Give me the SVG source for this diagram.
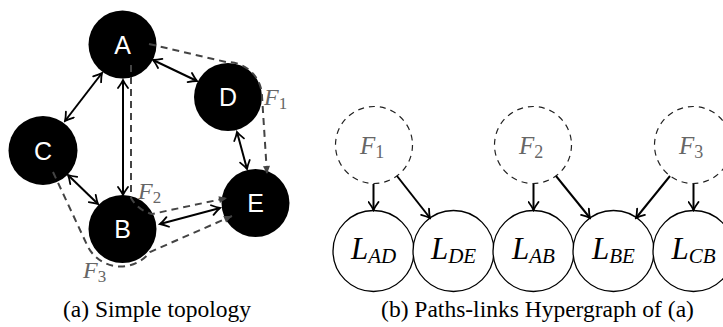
<svg xmlns="http://www.w3.org/2000/svg" width="723" height="327" viewBox="0 0 723 327">
<style>
.blk{fill:#000}
.nl{font-family:"Liberation Sans",Arial,sans-serif;font-size:25px;fill:#fff;text-anchor:middle}
.sol{stroke:#000;stroke-width:2;fill:none}
.dsh{stroke:#444;stroke-width:2;fill:none;stroke-dasharray:7 5}
.fl{font-family:"Liberation Serif","Times New Roman",serif;font-style:italic;fill:#666}
.ll{font-family:"Liberation Serif","Times New Roman",serif;font-style:italic;fill:#000;text-anchor:middle}
.dc{fill:#fff;stroke:#222;stroke-width:1.2;stroke-dasharray:6 5}
.lc{fill:#fff;stroke:#000;stroke-width:1.3}
.cap{font-family:"Liberation Serif","Times New Roman",serif;font-size:23.5px;fill:#000;text-anchor:middle}
</style>
<defs>
<marker id="to" viewBox="-10 -6 12 12" refX="0" refY="0" markerWidth="12" markerHeight="12" markerUnits="userSpaceOnUse" orient="auto-start-reverse">
<path d="M-8,-5 Q-3,-1.3 0,0 Q-3,1.3 -8,5" fill="none" stroke="#000" stroke-width="1.8" stroke-linecap="round"/>
</marker>
<marker id="tri" viewBox="-9 -5 10 10" refX="0" refY="0" markerWidth="10" markerHeight="10" markerUnits="userSpaceOnUse" orient="auto">
<path d="M-8,-3.5 L0,0 L-8,3.5 Z" fill="#444"/>
</marker>
</defs>

<g id="A"><circle class="blk" cx="122.5" cy="44.5" r="34"/><text class="nl" x="122.5" y="53.5">A</text></g>
<g id="B"><circle class="blk" cx="122.5" cy="229" r="34"/><text class="nl" x="122.5" y="238">B</text></g>
<g id="C"><circle class="blk" cx="43" cy="150.5" r="34.5"/><text class="nl" x="43" y="159.5">C</text></g>
<g id="D"><circle class="blk" cx="228" cy="97" r="34"/><text class="nl" x="228" y="106">D</text></g>
<g id="E"><circle class="blk" cx="255.5" cy="203" r="34"/><text class="nl" x="255.5" y="212">E</text></g>

<g id="links">
<line class="sol" x1="153" y1="60" x2="197" y2="81" marker-start="url(#to)" marker-end="url(#to)"/>
<line class="sol" x1="102" y1="73" x2="65" y2="121" marker-start="url(#to)" marker-end="url(#to)"/>
<line class="sol" x1="123" y1="80" x2="123" y2="195" marker-start="url(#to)" marker-end="url(#to)"/>
<line class="sol" x1="68" y1="175" x2="98" y2="204" marker-start="url(#to)" marker-end="url(#to)"/>
<line class="sol" x1="237" y1="132" x2="247" y2="169" marker-start="url(#to)" marker-end="url(#to)"/>
<line class="sol" x1="160" y1="224" x2="220" y2="208" marker-start="url(#to)" marker-end="url(#to)"/>
</g>

<g id="flows">
<path class="dsh" d="M149,44 L226,62 A35,35 0 0 1 262,96 L267,174" marker-end="url(#tri)"/>
<path class="dsh" d="M131,65 L131,198 A33,33 0 0 0 152,214 L227,198" marker-end="url(#tri)"/>
<path class="dsh" d="M53,172 L88,247 A37,37 0 0 0 150,252 L232,216" marker-end="url(#tri)"/>
<text class="fl" x="264" y="105" font-size="24">F<tspan font-style="normal" font-size="17" dy="4">1</tspan></text>
<text class="fl" x="138" y="199" font-size="24">F<tspan font-style="normal" font-size="17" dy="4">2</tspan></text>
<text class="fl" x="83" y="278" font-size="24">F<tspan font-style="normal" font-size="17" dy="4">3</tspan></text>
</g>

<g id="F1"><circle class="dc" cx="374" cy="145" r="38.5"/><text class="fl" x="360" y="154" font-size="25">F<tspan font-style="normal" font-size="18" dy="4">1</tspan></text></g>
<g id="F2"><circle class="dc" cx="533" cy="145" r="38.5"/><text class="fl" x="519" y="154" font-size="25">F<tspan font-style="normal" font-size="18" dy="4">2</tspan></text></g>
<g id="F3"><circle class="dc" cx="693" cy="145" r="38.5"/><text class="fl" x="679" y="154" font-size="25">F<tspan font-style="normal" font-size="18" dy="4">3</tspan></text></g>

<g id="LAD"><circle class="lc" cx="373.5" cy="251" r="40.5"/><text class="ll" x="373.5" y="259" font-size="31">L<tspan font-size="21" dy="4">AD</tspan></text></g>
<g id="LDE"><circle class="lc" cx="453.5" cy="251" r="40.5"/><text class="ll" x="453.5" y="259" font-size="31">L<tspan font-size="21" dy="4">DE</tspan></text></g>
<g id="LAB"><circle class="lc" cx="533.5" cy="251" r="40.5"/><text class="ll" x="533.5" y="259" font-size="31">L<tspan font-size="21" dy="4">AB</tspan></text></g>
<g id="LBE"><circle class="lc" cx="613.5" cy="251" r="40.5"/><text class="ll" x="613.5" y="259" font-size="31">L<tspan font-size="21" dy="4">BE</tspan></text></g>
<g id="LCB"><circle class="lc" cx="693.5" cy="251" r="40.5"/><text class="ll" x="693.5" y="259" font-size="31">L<tspan font-size="21" dy="4">CB</tspan></text></g>

<g id="hyperedges">
<line class="sol" x1="373.5" y1="184" x2="373.5" y2="210" marker-end="url(#to)"/>
<line class="sol" x1="397" y1="176" x2="430" y2="218" marker-end="url(#to)"/>
<line class="sol" x1="533.5" y1="184" x2="533.5" y2="210" marker-end="url(#to)"/>
<line class="sol" x1="556" y1="176" x2="590" y2="218" marker-end="url(#to)"/>
<line class="sol" x1="670" y1="176" x2="636" y2="218" marker-end="url(#to)"/>
<line class="sol" x1="693.5" y1="184" x2="693.5" y2="210" marker-end="url(#to)"/>
</g>

<text class="cap" x="157" y="317">(a) Simple topology</text>
<text class="cap" x="537.5" y="317">(b) Paths-links Hypergraph of (a)</text>
</svg>
